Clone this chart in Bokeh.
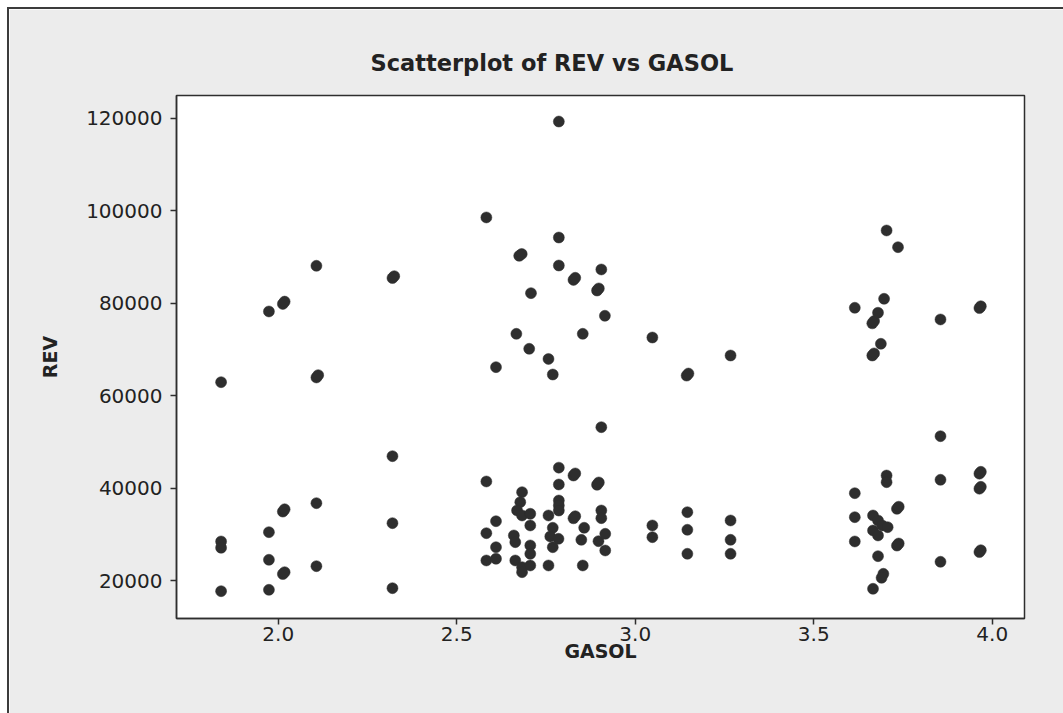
from bokeh.plotting import figure
from bokeh.models import Range1d, FixedTicker, NumeralTickFormatter
from bokeh.embed import file_html
from bokeh.resources import INLINE

# GASOL (x) and REV (y) observations, listed by GASOL value
gasol = [
    1.840, 1.840, 1.840, 1.840,
    1.974, 1.974, 1.974, 1.974,
    2.013, 2.018, 2.013, 2.018, 2.013, 2.018,
    2.107, 2.107, 2.112, 2.107, 2.107,
    2.320, 2.325, 2.320, 2.320, 2.320,
    2.583, 2.583, 2.583, 2.583,
    2.610, 2.610, 2.610, 2.610,
    2.660, 2.664, 2.664, 2.667,
    2.675, 2.682, 2.683, 2.678, 2.669, 2.683, 2.683, 2.683,
    2.708, 2.703, 2.706, 2.706, 2.706, 2.706, 2.706,
    2.757, 2.757, 2.757,
    2.769, 2.769, 2.762, 2.769,
    2.785, 2.786, 2.786, 2.786, 2.786, 2.786, 2.786, 2.786, 2.786,
    2.827, 2.832, 2.827, 2.832, 2.827, 2.832,
    2.853, 2.857, 2.849, 2.853,
    2.893, 2.898, 2.893, 2.898, 2.897,
    2.905, 2.905, 2.905, 2.905,
    2.915, 2.916, 2.916,
    3.048, 3.048, 3.048,
    3.144, 3.149, 3.146, 3.146, 3.146,
    3.267, 3.267, 3.267, 3.267,
    3.615, 3.615, 3.615, 3.615,
    3.664, 3.669, 3.664, 3.669, 3.666, 3.666, 3.666,
    3.680, 3.680, 3.680, 3.680,
    3.688, 3.695, 3.690,
    3.697, 3.704, 3.704, 3.704, 3.692, 3.707,
    3.736, 3.733, 3.738, 3.733, 3.738,
    3.855, 3.855, 3.855, 3.855,
    3.964, 3.968, 3.964, 3.968, 3.964, 3.968, 3.964, 3.968,
]

rev = [
    62880, 28440, 27080, 17690,
    78170, 30450, 24480, 17990,
    79800, 80300, 34900, 35400, 21400, 21800,
    88050, 63900, 64400, 36720, 23100,
    85400, 85800, 46880, 32400, 18340,
    98500, 41410, 30230, 24330,
    66130, 32820, 27200, 24700,
    29740, 28290, 24330, 73340,
    90200, 90600, 39100, 36940, 35140, 34060, 22880, 21800,
    82130, 70100, 34430, 31900, 27580, 25780, 23250,
    67900, 34060, 23250,
    64540, 31400, 29520, 27200,
    29020, 119240, 94160, 88110, 44400, 40760, 37300, 36220, 35130,
    85000, 85450, 42700, 43150, 33450, 33900,
    73340, 31400, 28800, 23250,
    82700, 83150, 40700, 41200, 28500,
    87250, 53150, 35140, 33480,
    77240, 30100, 26490,
    72540, 31900, 29370,
    64300, 64750, 34770, 30970, 25780,
    68650, 32980, 28800, 25780,
    78970, 38880, 33690, 28440,
    75600, 76100, 68650, 69100, 34060, 30820, 18210,
    77890, 32980, 29740, 25260,
    71180, 21450, 20590,
    80910, 95680, 42700, 41260, 31900, 31530,
    92070, 35500, 35950, 27550, 28000,
    76440, 51200, 41780, 24050,
    78900, 79300, 43100, 43500, 39850, 40250, 26150, 26550,
]

x_ticks = [2.0, 2.5, 3.0, 3.5, 4.0]
y_ticks = [20000, 40000, 60000, 80000, 100000, 120000]

INK = "#2e2e2e"
TEXT = "#222222"
PANEL = "#ECECEC"

p = figure(
    frame_width=848, frame_height=523,
    x_range=Range1d(1.7151, 4.0903), y_range=Range1d(11784, 124865),
    title="Scatterplot of REV vs GASOL",
    x_axis_label="GASOL", y_axis_label="REV",
    output_backend="svg", toolbar_location=None,
)
p.min_border_left = 167
p.min_border_right = 39
p.min_border_top = 86
p.min_border_bottom = 95
p.margin = (7, 0, 0, 7)
p.styles = {"border-left": "2px solid #3c3c3c", "border-top": "2px solid #3c3c3c"}

p.border_fill_color = PANEL
p.background_fill_color = "white"
p.outline_line_color = INK
p.outline_line_width = 1.5
p.xgrid.visible = False
p.ygrid.visible = False

p.title.text_font = "DejaVu Sans"
p.title.text_font_style = "bold"
p.title.text_font_size = "22.5px"
p.title.text_color = TEXT
p.title.align = "left"
p.title.offset = 194
p.title.standoff = 39

for ax in (p.xaxis[0], p.yaxis[0]):
    ax.axis_line_color = INK
    ax.axis_line_width = 1.5
    ax.major_tick_line_color = INK
    ax.major_tick_line_width = 1.5
    ax.major_tick_in = 0
    ax.major_tick_out = 6
    ax.minor_tick_line_color = None
    ax.major_label_text_font = "DejaVu Sans"
    ax.major_label_text_font_size = "20px"
    ax.major_label_text_color = TEXT
    ax.axis_label_text_font = "DejaVu Sans"
    ax.axis_label_text_font_style = "bold"
    ax.axis_label_text_font_size = "19px"
    ax.axis_label_text_color = TEXT

p.xaxis.ticker = FixedTicker(ticks=x_ticks)
p.xaxis.formatter = NumeralTickFormatter(format="0.0")
p.xaxis.major_label_standoff = 2
p.xaxis.axis_label_standoff = -4
p.yaxis.ticker = FixedTicker(ticks=y_ticks)
p.yaxis.formatter = NumeralTickFormatter(format="0")
p.yaxis.major_label_standoff = 8
p.yaxis.axis_label_standoff = 22

p.scatter(gasol, rev, marker="circle", size=11, fill_color=INK, line_color=INK, line_width=0.5)

open("out.html", "w").write(file_html(p, INLINE))
